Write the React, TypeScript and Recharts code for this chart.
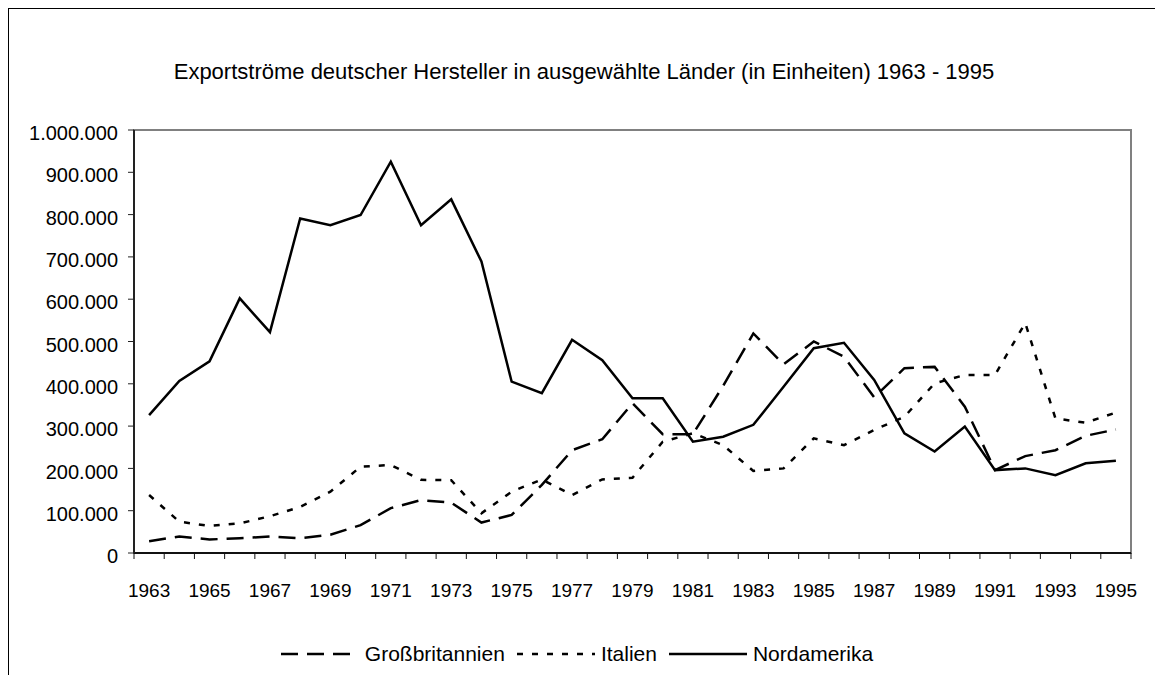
import React from "react";
import { LineChart, Line, XAxis, YAxis, ReferenceArea, Legend } from "recharts";

const YEARS = [
  1963, 1964, 1965, 1966, 1967, 1968, 1969, 1970, 1971, 1972, 1973,
  1974, 1975, 1976, 1977, 1978, 1979, 1980, 1981, 1982, 1983, 1984,
  1985, 1986, 1987, 1988, 1989, 1990, 1991, 1992, 1993, 1994, 1995,
];

const GROSSBRITANNIEN = [
  28000, 39000, 32000, 35000, 39000, 35000, 43000, 66000, 106000, 125000, 119000,
  72000, 90000, 161000, 243000, 269000, 354000, 281000, 281000, 395000, 519000, 446000,
  500000, 464000, 368000, 437000, 440000, 346000, 196000, 229000, 243000, 277000, 292000,
];

const ITALIEN = [
  137000, 74000, 64000, 70000, 87000, 109000, 145000, 204000, 208000, 173000, 172000,
  94000, 145000, 174000, 137000, 174000, 178000, 263000, 283000, 255000, 194000, 200000,
  271000, 255000, 291000, 322000, 401000, 421000, 421000, 544000, 318000, 308000, 332000,
];

const NORDAMERIKA = [
  326000, 407000, 453000, 602000, 522000, 791000, 775000, 799000, 925000, 775000, 836000,
  689000, 405000, 378000, 504000, 456000, 366000, 366000, 263000, 275000, 303000, 393000,
  484000, 497000, 409000, 283000, 240000, 299000, 196000, 200000, 184000, 212000, 218000,
];

const X_LABELS = [
  1963, 1965, 1967, 1969, 1971, 1973, 1975, 1977, 1979, 1981, 1983, 1985, 1987,
  1989, 1991, 1993, 1995,
];

const Y_TICKS = [
  0, 100000, 200000, 300000, 400000, 500000, 600000, 700000, 800000, 900000, 1000000,
];

const TITLE =
  "Exportströme deutscher Hersteller in ausgewählte Länder (in Einheiten) 1963 - 1995";

const SERIES = [
  { key: "gb", name: "Großbritannien", dash: "17 9" },
  { key: "it", name: "Italien", dash: "6 9" },
  { key: "na", name: "Nordamerika", dash: undefined as string | undefined },
];

const data = YEARS.map((year, i) => ({
  year,
  gb: GROSSBRITANNIEN[i],
  it: ITALIEN[i],
  na: NORDAMERIKA[i],
}));

const X_DOMAIN: [number, number] = [YEARS[0] - 0.5, YEARS[YEARS.length - 1] + 0.5];
const BOUNDARY_TICKS = YEARS.map((y) => y - 0.5).concat([YEARS[YEARS.length - 1] + 0.5]);
const ALL_X_TICKS = BOUNDARY_TICKS.concat(X_LABELS).sort((a, b) => a - b);

const FONT = "'Liberation Sans', Arial, Helvetica, sans-serif";

const formatDE = (v: number) =>
  String(Math.round(v)).replace(/\B(?=(\d{3})+(?!\d))/g, ".");

const XTick = (props: any) => {
  const { x, y, payload } = props;
  const v = payload && payload.value;
  if (!Number.isInteger(v)) {
    return <line x1={x} x2={x} y1={y} y2={y + 6} stroke="#111" strokeWidth={1} />;
  }
  return (
    <text
      x={x}
      y={y + 44}
      textAnchor="middle"
      fontSize={19}
      fontFamily={FONT}
      fill="#000"
    >
      {v}
    </text>
  );
};

const renderLegend = (props: any) => {
  const payload = (props && props.payload) || [];
  const items = SERIES.filter((s) =>
    payload.length ? payload.some((p: any) => p.value === s.name) : true
  );
  return (
    <div
      style={{
        display: "flex",
        justifyContent: "center",
        alignItems: "center",
        height: 26,
        fontFamily: FONT,
        fontSize: 21,
        color: "#000",
      }}
    >
      {items.map((s, idx) => (
        <div
          key={s.key}
          style={{
            display: "flex",
            alignItems: "center",
            marginRight: idx === items.length - 1 ? 0 : 12,
          }}
        >
          <svg width={78} height={6} style={{ display: "block" }}>
            <line
              x1={0}
              y1={3}
              x2={78}
              y2={3}
              stroke="#000"
              strokeWidth={2.5}
              strokeDasharray={s.dash}
            />
          </svg>
          <span style={{ marginLeft: 6, whiteSpace: "nowrap" }}>{s.name}</span>
        </div>
      ))}
    </div>
  );
};

export default function App() {
  return (
    <div
      style={{
        position: "relative",
        width: 1152,
        height: 700,
        boxSizing: "border-box",
        border: "1px solid #000",
        background: "#fff",
        fontFamily: FONT,
      }}
    >
      <div
        style={{
          position: "absolute",
          left: 0,
          top: 52,
          width: 1150,
          textAlign: "center",
          fontSize: 22,
          lineHeight: "22px",
          color: "#000",
          whiteSpace: "nowrap",
        }}
      >
        {TITLE}
      </div>
      <LineChart
        width={1150}
        height={670}
        data={data}
        margin={{ top: 121, right: 28, bottom: 12, left: 0 }}
        style={{ fontFamily: FONT }}
      >
        <ReferenceArea
          xAxisId="x"
          yAxisId="y"
          x1={X_DOMAIN[0]}
          x2={X_DOMAIN[1]}
          y1={0}
          y2={1000000}
          fill="none"
          stroke="#808080"
          strokeWidth={2}
          ifOverflow="visible"
        />
        <XAxis
          xAxisId="x"
          type="number"
          dataKey="year"
          domain={X_DOMAIN}
          ticks={ALL_X_TICKS}
          interval={0}
          height={88}
          tickSize={0}
          tickMargin={0}
          axisLine={{ stroke: "#111", strokeWidth: 2 }}
          tickLine={false}
          tick={<XTick />}
          allowDataOverflow
        />
        <YAxis
          yAxisId="y"
          type="number"
          domain={[0, 1000000]}
          ticks={Y_TICKS}
          interval={0}
          width={125}
          tickSize={6}
          tickMargin={10}
          tickFormatter={formatDE}
          axisLine={{ stroke: "#222", strokeWidth: 2 }}
          tickLine={{ stroke: "#222", strokeWidth: 1 }}
          tick={{ fill: "#000", fontSize: 20, fontFamily: FONT, dy: 3 }}
          allowDataOverflow
        />
        <Legend
          verticalAlign="bottom"
          content={renderLegend}
          wrapperStyle={{ height: 26, left: 0, width: 1136 }}
        />
        {SERIES.map((s) => (
          <Line
            key={s.key}
            xAxisId="x"
            yAxisId="y"
            type="linear"
            dataKey={s.key}
            name={s.name}
            stroke="#000"
            strokeWidth={2.5}
            strokeDasharray={s.dash}
            dot={false}
            activeDot={false}
            isAnimationActive={false}
          />
        ))}
      </LineChart>
    </div>
  );
}
